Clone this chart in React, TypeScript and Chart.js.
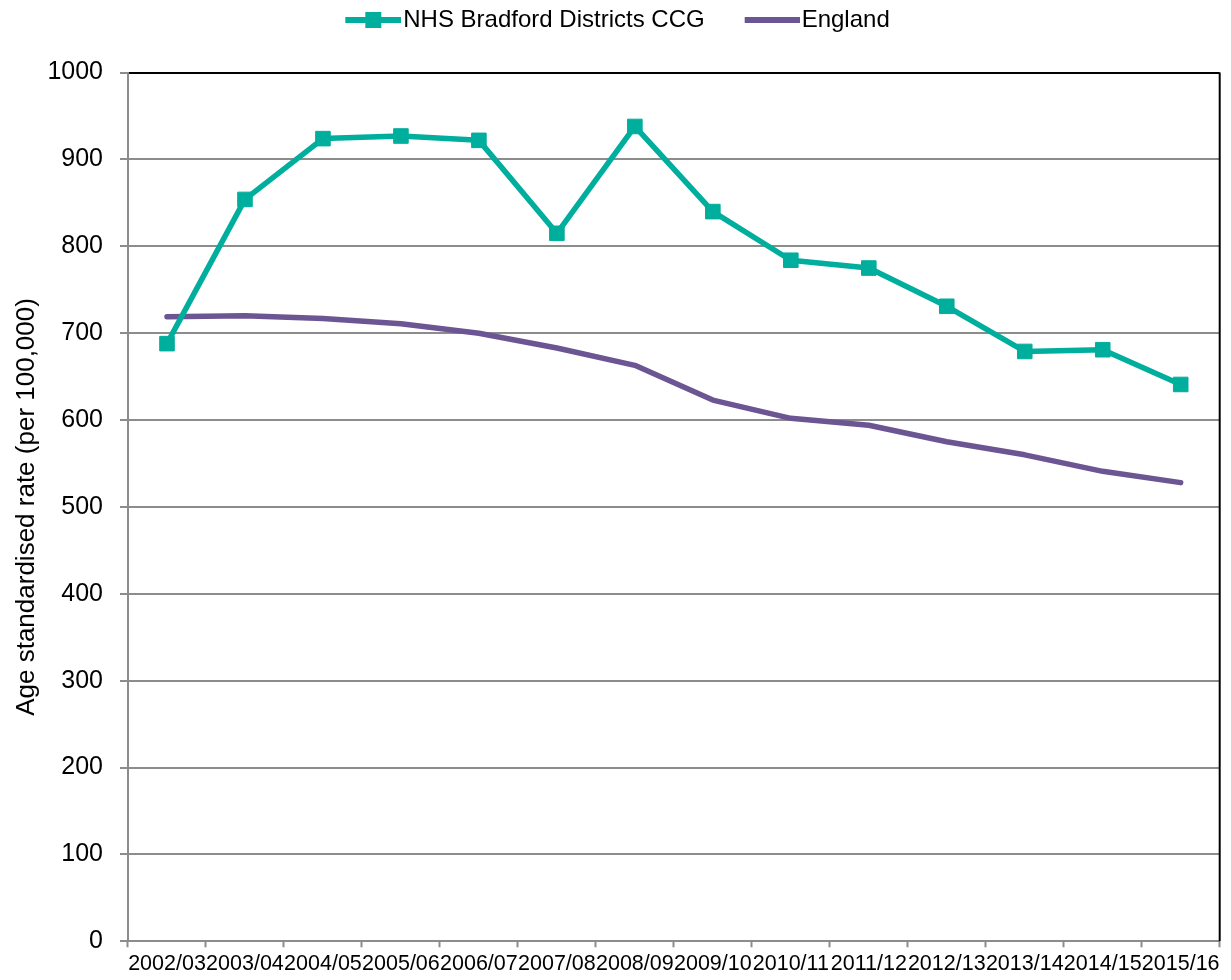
import React, { useEffect, useRef } from 'react';
import { Chart, registerables } from 'chart.js';

Chart.register(...registerables);

const categories: string[] = [
  '2002/03', '2003/04', '2004/05', '2005/06', '2006/07', '2007/08', '2008/09',
  '2009/10', '2010/11', '2011/12', '2012/13', '2013/14', '2014/15', '2015/16',
];
const bradfordValues: number[] = [688, 854, 924, 927, 922, 815, 938, 840, 784, 775, 731, 679, 681, 641];
const englandValues: number[] = [719, 720, 717, 711, 700, 683, 663, 623, 602, 594, 575, 560, 541, 528];
const seriesLabels: string[] = ['NHS Bradford Districts CCG', 'England'];
const yMin = 0;
const yMax = 1000;
const yStep = 100;
const yTitle = 'Age standardised rate (per 100,000)';

const FONT = '"Liberation Sans", Arial, Helvetica, sans-serif';
const TEAL = '#00AE9D';
const PURPLE = '#6B5592';
const GRID = '#8c8c8c';
const BOX_W = 77;

function makeSwatch(boxW: number, lineLen: number, color: string, marker: boolean): HTMLCanvasElement {
  const w = Math.round(boxW + 20);
  const h = 20;
  const c = document.createElement('canvas');
  c.width = w;
  c.height = h;
  const ctx = c.getContext('2d')!;
  ctx.strokeStyle = color;
  ctx.lineWidth = 6;
  ctx.lineCap = 'butt';
  ctx.beginPath();
  ctx.moveTo(w - lineLen, h / 2);
  ctx.lineTo(w, h / 2);
  ctx.stroke();
  if (marker) {
    const s = 16;
    const cx = w - lineLen / 2;
    ctx.fillStyle = color;
    ctx.fillRect(cx - s / 2, h / 2 - s / 2, s, s);
  }
  return c;
}

const legendHeightPlugin = {
  id: 'legendHeight',
  beforeLayout(chart: any) {
    const lg = chart.legend;
    if (lg && !lg._patchedFit) {
      const orig = lg.fit;
      lg.fit = function (this: any) {
        orig.call(this);
        this.height = 72.6;
        if (this.lineWidths && this.lineWidths.length) this.lineWidths[0] += 21;
      };
      lg._patchedFit = true;
    }
  },
};

const frameBorderPlugin = {
  id: 'frameBorder',
  beforeDatasetsDraw(chart: any) {
    const { ctx, chartArea } = chart;
    ctx.save();
    ctx.strokeStyle = '#000';
    ctx.lineWidth = 2;
    ctx.beginPath();
    ctx.moveTo(chartArea.right, chartArea.top);
    ctx.lineTo(chartArea.right, chartArea.bottom);
    ctx.stroke();
    ctx.restore();
  },
};

export default function App() {
  const canvasRef = useRef<HTMLCanvasElement | null>(null);

  useEffect(() => {
    if (!canvasRef.current) return;
    const swatches = [makeSwatch(BOX_W, 56, TEAL, true), makeSwatch(BOX_W, 55, PURPLE, false)];
    const chart = new Chart(canvasRef.current, {
      type: 'line',
      data: {
        labels: categories,
        datasets: [
          {
            label: seriesLabels[0],
            data: bradfordValues,
            borderColor: TEAL,
            backgroundColor: TEAL,
            borderWidth: 5.5,
            tension: 0,
            pointStyle: 'rect',
            pointRadius: 10.3,
            pointBorderWidth: 1,
            pointBorderColor: TEAL,
            pointBackgroundColor: TEAL,
            borderJoinStyle: 'round',
          },
          {
            label: seriesLabels[1],
            data: englandValues,
            borderColor: PURPLE,
            backgroundColor: PURPLE,
            borderWidth: 5.5,
            tension: 0,
            pointRadius: 0,
            borderCapStyle: 'round',
            borderJoinStyle: 'round',
          },
        ],
      },
      options: {
        animation: false,
        responsive: true,
        maintainAspectRatio: false,
        layout: { padding: { left: 0, right: 6, top: 0, bottom: 0 } },
        plugins: {
          tooltip: { enabled: false },
          legend: {
            position: 'top',
            align: 'center',
            labels: {
              usePointStyle: true,
              pointStyleWidth: BOX_W,
              padding: 8,
              color: '#000',
              font: { family: FONT, size: 24 },
              generateLabels: (ch: any) =>
                ch.data.datasets.map((ds: any, i: number) => ({
                  text: ds.label,
                  pointStyle: swatches[i],
                  datasetIndex: i,
                  hidden: false,
                  fillStyle: 'transparent',
                  strokeStyle: 'transparent',
                  lineWidth: 0,
                  fontColor: '#000',
                })),
            },
          },
        },
        scales: {
          x: {
            type: 'category',
            offset: true,
            grid: {
              offset: true,
              drawOnChartArea: false,
              drawTicks: true,
              tickLength: 6,
              tickColor: GRID,
              tickWidth: 2,
            },
            border: { display: true, color: GRID, width: 2 },
            ticks: {
              autoSkip: false,
              maxRotation: 0,
              minRotation: 0,
              padding: 4,
              color: '#000',
              font: { family: FONT, size: 21.5 },
            },
            afterFit: (scale: any) => {
              scale.height = 38.7;
            },
          },
          y: {
            type: 'linear',
            min: yMin,
            max: yMax,
            ticks: {
              stepSize: yStep,
              padding: 17,
              color: '#000',
              font: { family: FONT, size: 25 },
              callback: (v: any) => String(v),
            },
            grid: {
              color: (c: any) => (c.tick && c.tick.value === yMax ? '#000' : GRID),
              lineWidth: 2,
              tickLength: 8,
              tickColor: GRID,
              tickWidth: 2,
            },
            border: { display: true, color: GRID, width: 2 },
            title: {
              display: true,
              text: yTitle,
              color: '#000',
              font: { family: FONT, size: 26 },
              padding: { top: 11, bottom: 0 },
            },
            afterFit: (scale: any) => {
              scale.width = 128;
            },
          },
        },
      },
      plugins: [legendHeightPlugin, frameBorderPlugin],
    } as any);
    return () => chart.destroy();
  }, []);

  return (
    <div style={{ position: 'fixed', left: 0, top: 0, width: 1231, height: 980, background: '#fff' }}>
      <canvas ref={canvasRef} />
    </div>
  );
}
